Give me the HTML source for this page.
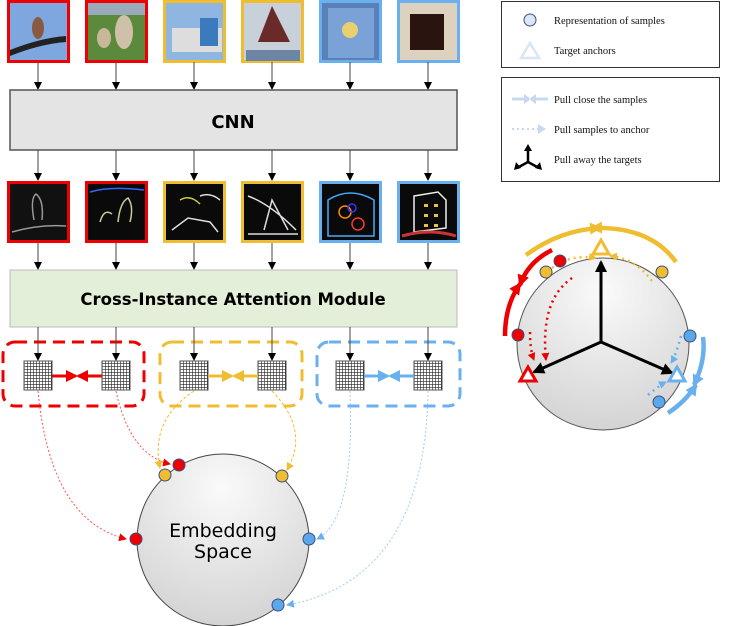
<!DOCTYPE html>
<html><head><meta charset="utf-8"><style>
body{margin:0;background:#fff;width:744px;height:626px;overflow:hidden}
svg{display:block}
</style></head><body>
<svg width="744" height="626" viewBox="0 0 744 626" xmlns="http://www.w3.org/2000/svg" font-family="Liberation Sans, sans-serif">
<defs>
<marker id="ab" markerWidth="8" markerHeight="8" refX="7" refY="4" orient="auto" markerUnits="userSpaceOnUse"><path d="M0,0 L8,4 L0,8 z" fill="#000"/></marker>
<marker id="ar" markerWidth="8" markerHeight="8" refX="7" refY="4" orient="auto" markerUnits="userSpaceOnUse"><path d="M0,0 L8,4 L0,8 z" fill="#e00"/></marker>
<marker id="ay" markerWidth="8" markerHeight="8" refX="7" refY="4" orient="auto" markerUnits="userSpaceOnUse"><path d="M0,0 L8,4 L0,8 z" fill="#f0bd30"/></marker>
<marker id="al" markerWidth="8" markerHeight="8" refX="7" refY="4" orient="auto" markerUnits="userSpaceOnUse"><path d="M0,0 L8,4 L0,8 z" fill="#6ab0ee"/></marker>
<marker id="ar2" markerWidth="12" markerHeight="12" refX="10" refY="6" orient="auto" markerUnits="userSpaceOnUse"><path d="M0,0 L12,6 L0,12 z" fill="#e00"/></marker>
<marker id="ay2" markerWidth="12" markerHeight="12" refX="10" refY="6" orient="auto" markerUnits="userSpaceOnUse"><path d="M0,0 L12,6 L0,12 z" fill="#f0bd30"/></marker>
<marker id="al2" markerWidth="12" markerHeight="12" refX="10" refY="6" orient="auto" markerUnits="userSpaceOnUse"><path d="M0,0 L12,6 L0,12 z" fill="#6ab0ee"/></marker>
<marker id="ab2" markerWidth="12" markerHeight="12" refX="10" refY="6" orient="auto" markerUnits="userSpaceOnUse"><path d="M0,0 L12,6 L0,12 z" fill="#000"/></marker>
<radialGradient id="sph" cx="0.5" cy="0.2" r="0.9"><stop offset="0" stop-color="#fafafa"/><stop offset="1" stop-color="#cfcfcf"/></radialGradient>
<pattern id="grid" width="3" height="3" patternUnits="userSpaceOnUse"><rect width="3" height="3" fill="#fff"/><path d="M0,0 H3 M0,0 V3" stroke="#222" stroke-width="1.2"/></pattern>
</defs>

<g>
<rect x="8.5" y="1.5" width="60" height="60" fill="#7ea7e0" stroke="#e00" stroke-width="3"/>
<path d="M10,50 Q40,38 66,36 L66,42 Q40,44 10,56z" fill="#222"/><ellipse cx="38" cy="28" rx="6" ry="11" fill="#8a5a40"/>
<rect x="86.5" y="1.5" width="60" height="60" fill="#5c8a3c" stroke="#e00" stroke-width="3"/>
<rect x="88" y="3" width="57" height="12" fill="#9ab"/><ellipse cx="104" cy="38" rx="7" ry="10" fill="#c8b89a"/><ellipse cx="124" cy="32" rx="9" ry="17" fill="#cfc0a8"/>
<rect x="164.5" y="1.5" width="60" height="60" fill="#8fb6e0" stroke="#f0bd30" stroke-width="3"/>
<rect x="172" y="28" width="50" height="24" fill="#ddd"/><rect x="200" y="18" width="18" height="28" fill="#3b7bbd"/>
<rect x="242.5" y="1.5" width="60" height="60" fill="#c8d0da" stroke="#f0bd30" stroke-width="3"/>
<path d="M246,50 L300,50 L300,61 L246,61z" fill="#6d85a5"/><path d="M272,6 L258,42 L290,42z" fill="#6b2a2a"/>
<rect x="320.5" y="1.5" width="60" height="60" fill="#5a80b8" stroke="#6ab0ee" stroke-width="3"/>
<rect x="328" y="8" width="46" height="50" fill="#7aa2d6"/><circle cx="350" cy="30" r="8" fill="#e8d070"/>
<rect x="398.5" y="1.5" width="60" height="60" fill="#ddd2c0" stroke="#6ab0ee" stroke-width="3"/>
<rect x="410" y="14" width="34" height="36" fill="#2a1410"/>
</g>

<g stroke="#444" stroke-width="1" marker-end="url(#ab)">
<line x1="38" y1="62" x2="38" y2="89"/><line x1="116" y1="62" x2="116" y2="89"/><line x1="194" y1="62" x2="194" y2="89"/><line x1="272" y1="62" x2="272" y2="89"/><line x1="350" y1="62" x2="350" y2="89"/><line x1="428" y1="62" x2="428" y2="89"/>
</g>
<rect x="10" y="90" width="447" height="60" fill="#e4e4e4" stroke="#555" stroke-width="1.5"/>
<text x="233" y="128" font-size="18" font-weight="bold" text-anchor="middle" font-family="DejaVu Sans, sans-serif">CNN</text>

<g stroke="#444" stroke-width="1" marker-end="url(#ab)">
<line x1="38" y1="150" x2="38" y2="180"/><line x1="116" y1="150" x2="116" y2="180"/><line x1="194" y1="150" x2="194" y2="180"/><line x1="272" y1="150" x2="272" y2="180"/><line x1="350" y1="150" x2="350" y2="180"/><line x1="428" y1="150" x2="428" y2="180"/>
</g>

<g stroke-width="3">
<rect x="8.5" y="182.5" width="60" height="59" fill="#111" stroke="#e00"/>
<rect x="86.5" y="182.5" width="60" height="59" fill="#0a0a0a" stroke="#e00"/>
<rect x="164.5" y="182.5" width="60" height="59" fill="#0a0a0a" stroke="#f0bd30"/>
<rect x="242.5" y="182.5" width="60" height="59" fill="#0a0a0a" stroke="#f0bd30"/>
<rect x="320.5" y="182.5" width="60" height="59" fill="#0a0a0a" stroke="#6ab0ee"/>
<rect x="398.5" y="182.5" width="60" height="59" fill="#0a0a0a" stroke="#6ab0ee"/>
</g>
<g fill="none" stroke-width="1.5">
<path d="M12,232 Q40,224 66,226 M34,220 Q30,198 36,194 Q44,200 42,220" stroke="#999"/>
<path d="M90,192 Q110,186 144,190" stroke="#36f"/><path d="M100,222 Q104,208 112,214 M118,222 Q120,202 128,198 Q134,206 130,222" stroke="#cc9"/>
<path d="M172,230 L188,218 L210,222 L218,232 M200,196 Q210,192 220,200" stroke="#ddd"/><path d="M180,200 Q190,194 200,204" stroke="#cc4"/>
<path d="M248,196 Q270,204 296,230 M264,230 L272,200 L288,230 M248,234 H298" stroke="#ddd"/>
<path d="M328,200 Q350,186 374,200 V236 H328z" stroke="#4af"/><circle cx="345" cy="212" r="6" stroke="#f80"/><circle cx="358" cy="224" r="6" stroke="#f33"/><circle cx="352" cy="208" r="4" stroke="#33f"/>
<path d="M414,196 L438,192 L446,200 L446,228 L414,232z" stroke="#eee"/><path d="M402,236 Q430,228 456,236" stroke="#c33" stroke-width="3"/>
</g>
<g fill="#e8c040"><rect x="424" y="204" width="4" height="3"/><rect x="434" y="204" width="4" height="3"/><rect x="424" y="214" width="4" height="3"/><rect x="434" y="214" width="4" height="3"/><rect x="424" y="224" width="4" height="3"/><rect x="434" y="224" width="4" height="3"/></g>

<g stroke="#444" stroke-width="1" marker-end="url(#ab)">
<line x1="38" y1="243" x2="38" y2="269"/><line x1="116" y1="243" x2="116" y2="269"/><line x1="194" y1="243" x2="194" y2="269"/><line x1="272" y1="243" x2="272" y2="269"/><line x1="350" y1="243" x2="350" y2="269"/><line x1="428" y1="243" x2="428" y2="269"/>
</g>
<rect x="10" y="270" width="447" height="57" fill="#e3efd8" stroke="#bbb" stroke-width="1"/>
<text x="233" y="305" font-size="16.5" font-weight="bold" text-anchor="middle" font-family="DejaVu Sans, sans-serif">Cross-Instance Attention Module</text>

<g fill="none" stroke-width="3" stroke-dasharray="12,7">
<rect x="3" y="342" width="141" height="64" rx="12" stroke="#e00"/>
<rect x="160" y="342" width="142" height="64" rx="12" stroke="#f0bd30"/>
<rect x="317" y="342" width="143" height="64" rx="12" stroke="#6ab0ee"/>
</g>
<g stroke="#444" stroke-width="1" marker-end="url(#ab)">
<line x1="38" y1="327" x2="38" y2="360"/><line x1="116" y1="327" x2="116" y2="360"/><line x1="194" y1="327" x2="194" y2="360"/><line x1="272" y1="327" x2="272" y2="360"/><line x1="350" y1="327" x2="350" y2="360"/><line x1="428" y1="327" x2="428" y2="360"/>
</g>
<g stroke="#555" stroke-width="1">
<rect x="24" y="361" width="28" height="29" fill="url(#grid)"/><rect x="102" y="361" width="28" height="29" fill="url(#grid)"/>
<rect x="180" y="361" width="28" height="29" fill="url(#grid)"/><rect x="258" y="361" width="28" height="29" fill="url(#grid)"/>
<rect x="336" y="361" width="28" height="29" fill="url(#grid)"/><rect x="414" y="361" width="28" height="29" fill="url(#grid)"/>
</g>
<g stroke-width="3">
<line x1="52" y1="376" x2="76" y2="376" stroke="#e00" marker-end="url(#ar2)"/><line x1="102" y1="376" x2="78" y2="376" stroke="#e00" marker-end="url(#ar2)"/>
<line x1="208" y1="376" x2="232" y2="376" stroke="#f0bd30" marker-end="url(#ay2)"/><line x1="258" y1="376" x2="234" y2="376" stroke="#f0bd30" marker-end="url(#ay2)"/>
<line x1="364" y1="376" x2="388" y2="376" stroke="#6ab0ee" marker-end="url(#al2)"/><line x1="414" y1="376" x2="390" y2="376" stroke="#6ab0ee" marker-end="url(#al2)"/>
</g>

<circle cx="223" cy="540" r="86" fill="url(#sph)" stroke="#444" stroke-width="1"/>
<text x="223" y="537" font-size="19" text-anchor="middle" font-family="DejaVu Sans, sans-serif">Embedding</text>
<text x="223" y="558" font-size="19" text-anchor="middle" font-family="DejaVu Sans, sans-serif">Space</text>
<g fill="none" stroke-width="1" stroke-dasharray="2,2">
<path d="M38,391 Q50,520 126,539" stroke="#f55" marker-end="url(#ar)"/>
<path d="M116,391 Q130,455 170,464" stroke="#f55" marker-end="url(#ar)"/>
<path d="M194,391 Q150,420 160,468" stroke="#f0bd30" stroke-dasharray="3,2" marker-end="url(#ay)"/>
<path d="M272,391 Q310,430 287,470" stroke="#f0bd30" stroke-dasharray="3,2" marker-end="url(#ay)"/>
<path d="M350,391 Q355,520 317,539" stroke="#9cd0f5" marker-end="url(#al)"/>
<path d="M428,391 Q425,580 287,605" stroke="#9cd0f5" marker-end="url(#al)"/>
</g>
<g stroke="#3a5080" stroke-width="1">
<circle cx="179" cy="465" r="6" fill="#e00"/><circle cx="165" cy="475" r="6" fill="#f0bd30"/><circle cx="282" cy="476" r="6" fill="#f0bd30"/>
<circle cx="136" cy="539" r="6" fill="#e00"/><circle cx="309" cy="539" r="6" fill="#5aa8ea"/><circle cx="278" cy="605" r="6" fill="#5aa8ea"/>
</g>

<!-- legend -->
<rect x="501.5" y="1.5" width="218" height="66" fill="#fff" stroke="#333" stroke-width="1"/>
<rect x="501.5" y="77.5" width="218" height="104" fill="#fff" stroke="#333" stroke-width="1"/>
<circle cx="530" cy="20" r="6" fill="#dde6f6" stroke="#3a5080" stroke-width="1"/>
<path d="M530,43 L539,58 L521,58z" fill="none" stroke="#d8e6f6" stroke-width="2.5"/>
<g font-family="Liberation Serif, serif" font-size="10.5" fill="#111">
<text x="554" y="24">Representation of samples</text>
<text x="554" y="54">Target anchors</text>
<text x="554" y="103">Pull close the samples</text>
<text x="554" y="133">Pull samples to anchor</text>
<text x="554" y="163">Pull away the targets</text>
</g>
<g stroke="#c8d8f0" stroke-width="3"><line x1="512" y1="99" x2="528" y2="99"/><line x1="548" y1="99" x2="532" y2="99"/></g>
<path d="M524,94 L531,99 L524,104z M536,94 L529,99 L536,104z" fill="#c8d8f0"/>
<line x1="512" y1="129" x2="538" y2="129" stroke="#c8d8f0" stroke-width="2" stroke-dasharray="2,3"/><path d="M538,124 L546,129 L538,134z" fill="#c8d8f0"/>
<g stroke="#000" stroke-width="2.5"><line x1="528" y1="162" x2="528" y2="149"/><line x1="528" y1="162" x2="517" y2="168"/><line x1="528" y1="162" x2="539" y2="168"/></g>
<path d="M528,144 L532,151 L524,151z M514,170 L516,162 L521,168z M542,170 L540,162 L535,168z" fill="#000"/>

<!-- right sphere -->
<circle cx="603" cy="344" r="86" fill="url(#sph)" stroke="#555" stroke-width="1"/>
<g stroke="#000" stroke-width="3">
<line x1="601" y1="342" x2="601" y2="262" marker-end="url(#ab2)"/>
<line x1="601" y1="342" x2="534" y2="372" marker-end="url(#ab2)"/>
<line x1="601" y1="342" x2="672" y2="373" marker-end="url(#ab2)"/>
</g>
<g fill="none" stroke-width="2.5" stroke-dasharray="2,4">
<path d="M552,268 Q570,254 596,258" stroke="#f0bd30" marker-end="url(#ay)"/>
<path d="M652,281 Q635,258 610,256" stroke="#f0bd30" marker-end="url(#ay)"/>
<path d="M572,278 Q540,300 546,360" stroke="#e00" marker-end="url(#ar)"/>
<path d="M530,332 Q530,350 534,360" stroke="#e00" marker-end="url(#ar)"/>
<path d="M681,336 Q676,355 671,363" stroke="#6ab0ee" marker-end="url(#al)"/>
<path d="M648,395 Q660,385 666,382" stroke="#6ab0ee" marker-end="url(#al)"/>
</g>
<g fill="none" stroke-width="4.5">
<path d="M526,255 Q560,230 600,228" stroke="#f0bd30" marker-end="url(#ay2)"/>
<path d="M676,262 Q650,226 592,228" stroke="#f0bd30" marker-end="url(#ay2)"/>
<path d="M552,250 Q528,262 520,285" stroke="#e00" marker-end="url(#ar2)"/>
<path d="M505,336 Q505,305 520,284" stroke="#e00" marker-end="url(#ar2)"/>
<path d="M703,337 Q706,360 694,385" stroke="#6ab0ee" marker-end="url(#al2)"/>
<path d="M668,413 Q685,402 696,385" stroke="#6ab0ee" marker-end="url(#al2)"/>
</g>
<g stroke="#3a5080" stroke-width="1">
<circle cx="560" cy="261" r="6" fill="#e00"/><circle cx="546" cy="272" r="6" fill="#f0bd30"/><circle cx="662" cy="272" r="6" fill="#f0bd30"/>
<circle cx="518" cy="335" r="6" fill="#e00"/><circle cx="690" cy="336" r="6" fill="#5aa8ea"/><circle cx="659" cy="402" r="6" fill="#5aa8ea"/>
</g>
<path d="M601,240 L609,254 L593,254z" fill="#fff" stroke="#f0bd30" stroke-width="3"/>
<path d="M528,367 L536,381 L520,381z" fill="#fff" stroke="#e00" stroke-width="3"/>
<path d="M677,367 L685,381 L669,381z" fill="#fff" stroke="#6ab0ee" stroke-width="3"/>
</svg>
</body></html>
